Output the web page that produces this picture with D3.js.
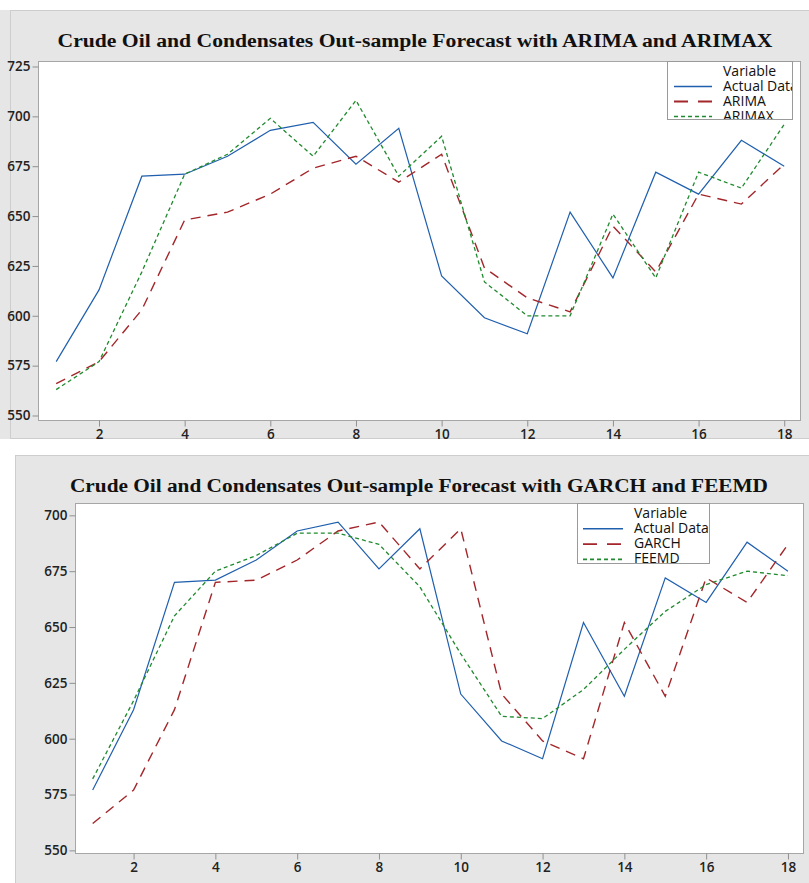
<!DOCTYPE html>
<html>
<head>
<meta charset="utf-8">
<script src="https://cdn.jsdelivr.net/npm/d3@7"></script>
<style>
  body { margin: 0; background: #fff; }
  svg { display: block; }
</style>
</head>
<body>
<div id="chart"></div>
<script>
// periods on the x axis
const periods = [1, 2, 3, 4, 5, 6, 7, 8, 9, 10, 11, 12, 13, 14, 15, 16, 17, 18];

// series
const actualData = [577, 613, 670, 671, 680, 693, 697, 676, 694, 620, 599, 591, 652, 619, 672, 661, 688, 675];
const arima      = [566, 577, 603, 648, 652, 661, 674, 680, 667, 681, 624, 609, 602, 645, 622, 661, 656, 676];
const arimax     = [563, 577, 622, 671, 681, 699, 680, 708, 670, 690, 617, 600, 600, 651, 619, 672, 664, 696];
const garch      = [562, 577, 613, 670, 671, 680, 693, 697, 676, 694, 620, 599, 591, 652, 619, 672, 661, 687];
const feemd      = [582, 617, 655, 675, 682, 692, 692, 687, 668, 638, 610, 609, 622, 640, 657, 669, 675, 673];

// tick labels
const xTicks = [2, 4, 6, 8, 10, 12, 14, 16, 18];
const yTicksTop = [725, 700, 675, 650, 625, 600, 575, 550];
const yTicksBottom = [700, 675, 650, 625, 600, 575, 550];

const W = 809, H = 883;
const svg = d3.select("#chart").append("svg")
    .attr("width", W)
    .attr("height", H);

const colors = { blue: "#1f5fae", red: "#a3262a", green: "#1f8a2e" };
const styles = [
    { color: colors.blue, dash: null, width: 1.2 },
    { color: colors.red, dash: "10,7", width: 1.4 },
    { color: colors.green, dash: "4,3", width: 1.3 }
];

function drawPanel(cfg, idx) {
    const g = svg.append("g");

    // grey background panel
    g.append("rect")
        .attr("x", cfg.panel[0]).attr("y", cfg.panel[1])
        .attr("width", cfg.panel[2]).attr("height", cfg.panel[3])
        .style("fill", "#e6e6e6")
        .style("stroke", "#cdcdcd");

    g.append("text")
        .attr("x", cfg.titleX)
        .attr("y", cfg.titleY)
        .attr("text-anchor", "middle")
        .attr("textLength", cfg.titleLen)
        .attr("lengthAdjust", "spacingAndGlyphs")
        .style("font-family", "'Liberation Serif', 'Times New Roman', serif")
        .style("font-weight", "bold")
        .style("font-size", "18px")
        .style("fill", "#111")
        .text(cfg.title);

    const x = d3.scaleLinear().domain(cfg.xDomain).range([cfg.plot.left, cfg.plot.right]);
    const y = d3.scaleLinear().domain(cfg.yDomain).range([cfg.plot.bottom, cfg.plot.top]);

    // white plot area
    g.append("rect")
        .attr("x", cfg.plot.left).attr("y", cfg.plot.top)
        .attr("width", cfg.plot.right - cfg.plot.left)
        .attr("height", cfg.plot.bottom - cfg.plot.top)
        .style("fill", "#fff")
        .style("stroke", "#a6a6a6");

    const yAxis = g.append("g")
        .attr("transform", `translate(${cfg.plot.left},0)`)
        .call(d3.axisLeft(y).tickValues(cfg.yTicks).tickSize(6).tickPadding(2));
    const xAxis = g.append("g")
        .attr("transform", `translate(0,${cfg.plot.bottom})`)
        .call(d3.axisBottom(x).tickValues(xTicks).tickSize(6).tickPadding(3));

    [xAxis, yAxis].forEach(a => {
        a.select(".domain").remove();
        a.selectAll("line").style("stroke", "#909090");
        a.selectAll("text")
            .style("font-family", "'Open Sans', 'Noto Sans', sans-serif")
            .style("font-size", "13.5px")
            .style("font-weight", "600")
            .style("fill", "#222");
    });

    const line = d3.line()
        .x((d, i) => x(periods[i]))
        .y(d => y(d));

    cfg.series.forEach((s, i) => {
        g.append("path")
            .datum(s.values)
            .attr("d", line)
            .style("fill", "none")
            .style("stroke", styles[i].color)
            .style("stroke-width", styles[i].width)
            .style("stroke-dasharray", styles[i].dash);
    });

    // legend box, clipped like the original
    const L = cfg.legend;
    const clipId = "legclip" + idx;
    g.append("clipPath").attr("id", clipId)
        .append("rect")
        .attr("x", L.x).attr("y", L.y).attr("width", L.w).attr("height", L.h);

    const lg = g.append("g").attr("clip-path", `url(#${clipId})`);
    lg.append("rect")
        .attr("x", L.x).attr("y", L.y).attr("width", L.w).attr("height", L.h)
        .style("fill", "#fff");

    const textStyle = sel => sel
        .style("font-family", "'Open Sans', 'Noto Sans', sans-serif")
        .style("font-size", "14px")
        .style("fill", "#111");

    lg.append("text")
        .attr("x", L.textX).attr("y", L.y + L.first)
        .text("Variable")
        .call(textStyle);

    cfg.series.forEach((s, i) => {
        const yy = L.y + L.first + (i + 1) * L.step;
        lg.append("line")
            .attr("x1", L.lineX1).attr("x2", L.lineX2)
            .attr("y1", yy - 4).attr("y2", yy - 4)
            .style("stroke", styles[i].color)
            .style("stroke-width", styles[i].width + 0.4)
            .style("stroke-dasharray", i === 1 ? "14,10" : styles[i].dash);
        lg.append("text")
            .attr("x", L.textX).attr("y", yy)
            .text(s.name)
            .call(textStyle);
    });

    g.append("rect")
        .attr("x", L.x).attr("y", L.y).attr("width", L.w).attr("height", L.h)
        .style("fill", "none")
        .style("stroke", "#9a9a9a");
}

const panels = [
    {
        panel: [10.5, 10.5, 810, 428],
        title: "Crude Oil and Condensates Out-sample Forecast with ARIMA and ARIMAX",
        titleX: 415, titleY: 47, titleLen: 715,
        plot: { left: 38.5, right: 800.5, top: 61.5, bottom: 420.5 },
        xDomain: [0.587, 18.38],
        yDomain: [547.5, 727.5],
        yTicks: yTicksTop,
        series: [
            { name: "Actual Data", values: actualData },
            { name: "ARIMA", values: arima },
            { name: "ARIMAX", values: arimax }
        ],
        legend: { x: 667.5, y: 61.5, w: 125, h: 58, textX: 723, first: 14, step: 15, lineX1: 674, lineX2: 712 }
    },
    {
        panel: [15.5, 455.5, 810, 440],
        title: "Crude Oil and Condensates Out-sample Forecast with GARCH and FEEMD",
        titleX: 419, titleY: 492, titleLen: 698,
        plot: { left: 75.5, right: 803.5, top: 503.5, bottom: 853.5 },
        xDomain: [0.58, 18.38],
        yDomain: [548.6, 705.3],
        yTicks: yTicksBottom,
        series: [
            { name: "Actual Data", values: actualData },
            { name: "GARCH", values: garch },
            { name: "FEEMD", values: feemd }
        ],
        legend: { x: 577.5, y: 503.5, w: 132, h: 60, textX: 634, first: 14, step: 15.3, lineX1: 583, lineX2: 623 }
    }
];

// thin grey strip left of the top panel (the image is cropped there)
svg.append("rect").attr("x", 0).attr("y", 10).attr("width", 11).attr("height", 429).style("fill", "#e6e6e6");

panels.forEach(drawPanel);
</script>
</body>
</html>
